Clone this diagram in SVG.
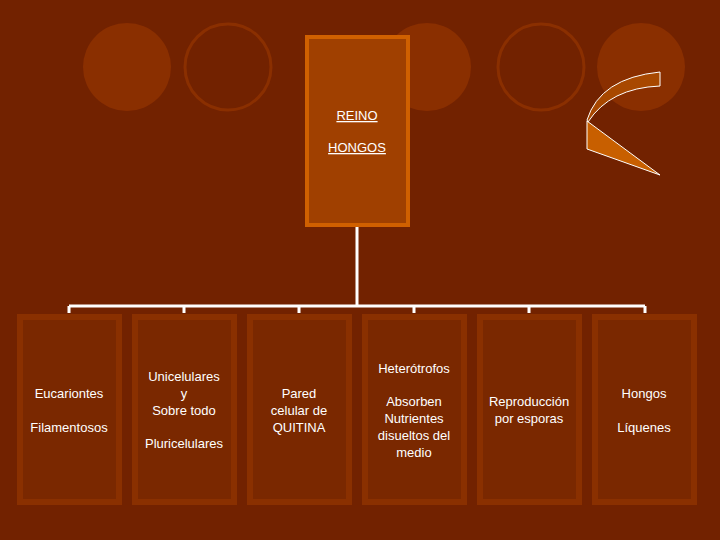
<svg xmlns="http://www.w3.org/2000/svg" width="720" height="540" viewBox="0 0 720 540">
<style>
.c{fill:#8a2f00}.o{fill:none;stroke:#8a2f00;stroke-width:3}
.b{fill:#7a2800;stroke:#8a3000;stroke-width:6}
.t{font-family:"Liberation Sans",Arial,sans-serif;font-size:13px;fill:#fff;text-anchor:middle}
.k{stroke:#fff;stroke-width:3;fill:none}
</style>
<rect width="720" height="540" fill="#722200"/>
<circle class="c" cx="127" cy="67" r="44"/>
<circle class="o" cx="228" cy="67" r="43"/>
<circle class="c" cx="427" cy="67" r="44"/>
<circle class="o" cx="541" cy="67" r="43"/>
<circle class="c" cx="641" cy="67" r="44"/>
<path d="M660,72 L660,86 Q610,88 588,122 L587,120 Q600,78 660,72Z" fill="#a84800" stroke="#fff" stroke-width="1"/>
<path d="M587,121 L587,149 L660,175Z" fill="#c85f00" stroke="#fff" stroke-width="1"/>
<g id="reino"><rect x="307" y="37" width="101" height="188" fill="#a04000" stroke="#d06000" stroke-width="4"/>
<text class="t" x="357" y="120" text-decoration="underline">REINO</text>
<text class="t" x="357" y="152" text-decoration="underline">HONGOS</text></g>
<g id="connectors" class="k"><path d="M357,227V306M69,306H645M69,306v7M184,306v7M299,306v7M414,306v7M529,306v7M645,306v7"/></g>
<g id="n1"><rect class="b" x="20" y="317" width="99" height="185"/><text class="t" x="69" y="398">Eucariontes</text><text class="t" x="69" y="432">Filamentosos</text></g>
<g id="n2"><rect class="b" x="135" y="317" width="99" height="185"/><text class="t" x="184" y="381">Unicelulares</text><text class="t" x="184" y="398">y</text><text class="t" x="184" y="415">Sobre todo</text><text class="t" x="184" y="448">Pluricelulares</text></g>
<g id="n3"><rect class="b" x="250" y="317" width="99" height="185"/><text class="t" x="299" y="398">Pared</text><text class="t" x="299" y="415">celular de</text><text class="t" x="299" y="432">QUITINA</text></g>
<g id="n4"><rect class="b" x="365" y="317" width="99" height="185"/><text class="t" x="414" y="373">Heterótrofos</text><text class="t" x="414" y="406">Absorben</text><text class="t" x="414" y="423">Nutrientes</text><text class="t" x="414" y="440">disueltos del</text><text class="t" x="414" y="457">medio</text></g>
<g id="n5"><rect class="b" x="480" y="317" width="99" height="185"/><text class="t" x="529" y="406">Reproducción</text><text class="t" x="529" y="423">por esporas</text></g>
<g id="n6"><rect class="b" x="595" y="317" width="99" height="185"/><text class="t" x="644" y="398">Hongos</text><text class="t" x="644" y="432">Líquenes</text></g>
</svg>
